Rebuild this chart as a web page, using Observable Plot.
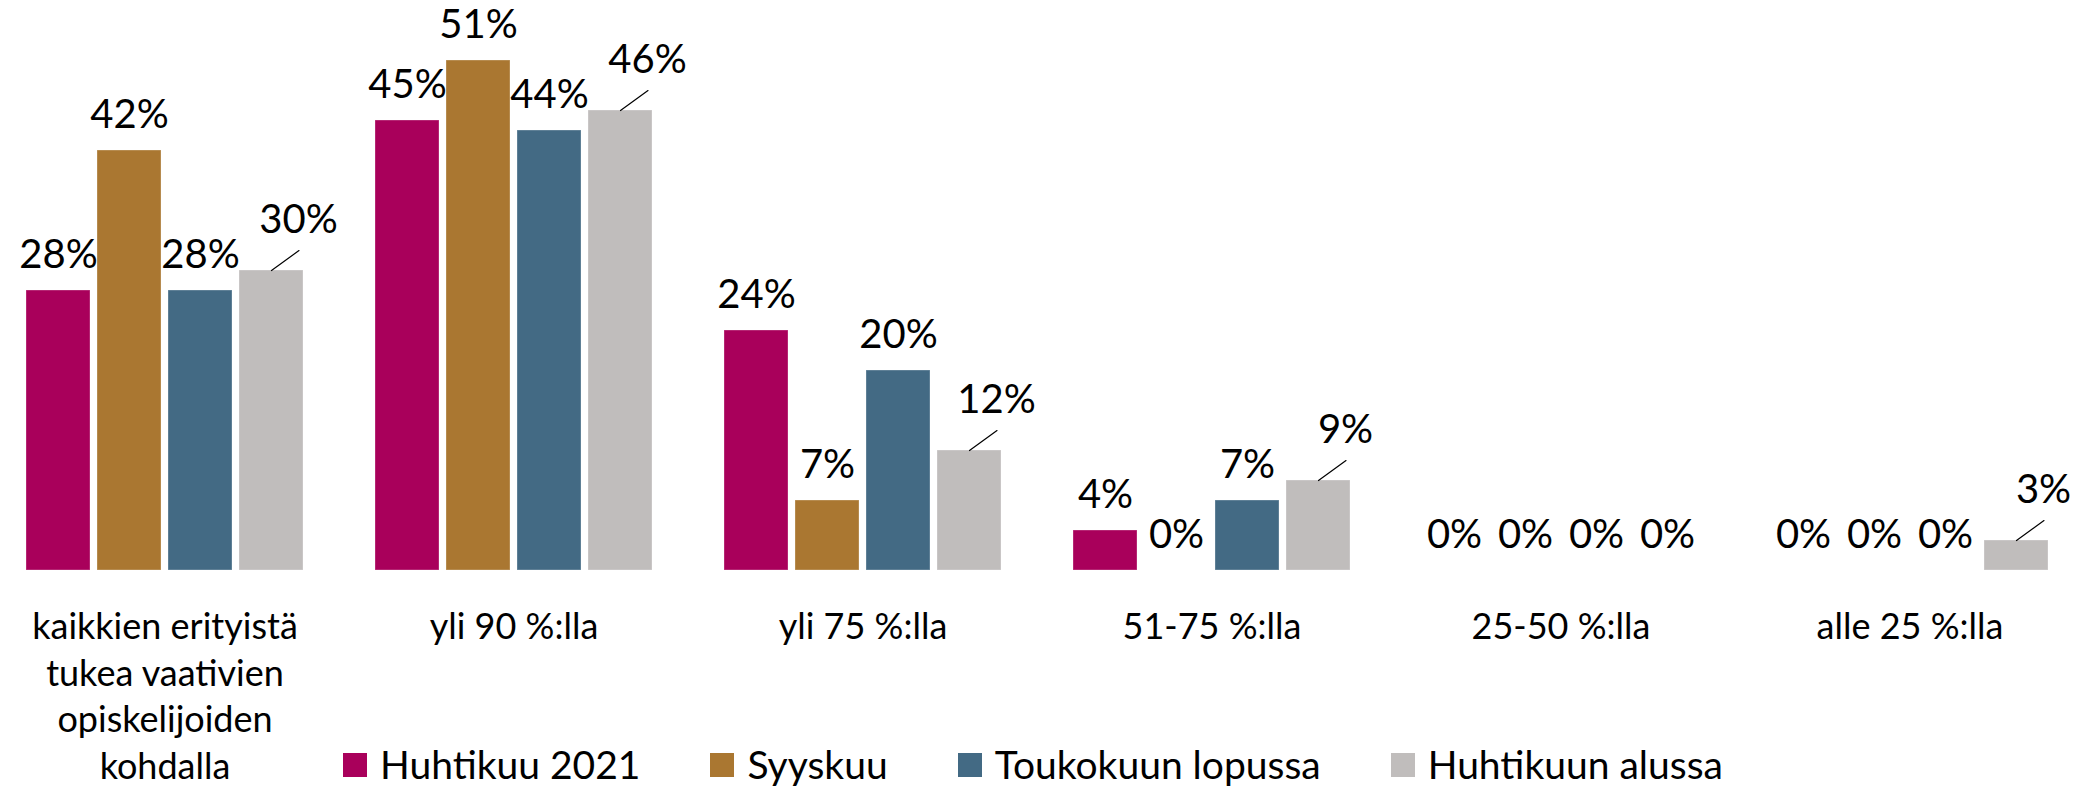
<!DOCTYPE html>
<html>
<head>
<meta charset="utf-8">
<script src="https://cdn.jsdelivr.net/npm/d3@7"></script>
<script src="https://cdn.jsdelivr.net/npm/@observablehq/plot@0.6"></script>
<style>
  html, body { margin: 0; padding: 0; background: #ffffff; }
  #wrap { position: relative; width: 2094px; height: 788px; font-family: Lato, "Open Sans", sans-serif; }
  #legend { position: absolute; left: 343px; top: 745px; display: flex; align-items: center; font-size: 39px; line-height: 1; color: #000; }
  #legend .item { display: flex; align-items: center; margin-right: 70px; }
  #legend .sw { width: 24px; height: 24px; margin-right: 13px; }
</style>
</head>
<body>
<div id="wrap"><div id="chart"></div><div id="legend"></div></div>
<script>
// Categories (x groups)
const categories = [
  "kaikkien erityistä\ntukea vaativien\nopiskelijoiden\nkohdalla",
  "yli 90 %:lla",
  "yli 75 %:lla",
  "51-75 %:lla",
  "25-50 %:lla",
  "alle 25 %:lla"
];
// Series
const series = ["Huhtikuu 2021", "Syyskuu", "Toukokuun lopussa", "Huhtikuun alussa"];
const colors = ["#a9005b", "#aa7731", "#436a84", "#c0bdbc"];
// Values (%) per series, in category order
const huhtikuu2021 = [28, 45, 24, 4, 0, 0];
const syyskuu = [42, 51, 7, 0, 0, 0];
const toukokuunLopussa = [28, 44, 20, 7, 0, 0];
const huhtikuunAlussa = [30, 46, 12, 9, 0, 3];

const seriesValues = [huhtikuu2021, syyskuu, toukokuunLopussa, huhtikuunAlussa];
const data = categories.flatMap((c, i) =>
  series.map((s, j) => ({category: c, series: s, value: seriesValues[j][i]}))
);
const lastSeries = series[series.length - 1];
const isLeader = d => d.series === lastSeries && d.value > 0;

const leaderShape = {
  draw(context, l) { context.moveTo(0, 0); context.lineTo(0, -l); }
};

const chart = Plot.plot({
  width: 2094,
  height: 788,
  marginLeft: 0,
  marginRight: 21,
  marginTop: 20,
  marginBottom: 218,
  style: {fontFamily: "Lato, 'Open Sans', sans-serif", fontSize: "36px", background: "#ffffff", color: "#000"},
  fx: {domain: categories, paddingInner: 0.195, paddingOuter: 0.06, axis: null, label: null},
  x: {domain: series, paddingInner: 0.093, paddingOuter: 0, axis: null, label: null},
  y: {domain: [0, 55], axis: null, label: null},
  color: {domain: series, range: colors},
  marks: [
    Plot.barY(data, {fx: "category", x: "series", y: "value", fill: "series", stroke: "#ffffff", strokeOpacity: 0.3, strokeWidth: 1}),
    Plot.text(data.filter(d => !isLeader(d)), {fx: "category", x: "series", y: "value", text: d => d.value + "%", dy: -35, fontSize: 40, fill: "#000"}),
    Plot.text(data.filter(isLeader), {fx: "category", x: "series", y: "value", text: d => d.value + "%", dx: 27, dy: -50, fontSize: 40, fill: "#000"}),
    Plot.vector(data.filter(isLeader), {fx: "category", x: "series", y: "value", length: 34, rotate: 54, anchor: "start", shape: leaderShape, stroke: "#000", strokeWidth: 1.2}),
    Plot.text(categories, {fx: d => d, text: d => d, frameAnchor: "bottom", lineAnchor: "top", dy: 35, lineHeight: 1.3, fontSize: 36, fill: "#000"})
  ]
});
document.getElementById("chart").appendChild(chart);

const legend = document.getElementById("legend");
series.forEach((s, i) => {
  const item = document.createElement("div");
  item.className = "item";
  const sw = document.createElement("div");
  sw.className = "sw";
  sw.style.background = colors[i];
  const label = document.createElement("span");
  label.textContent = s;
  item.appendChild(sw);
  item.appendChild(label);
  legend.appendChild(item);
});
</script>
</body>
</html>
